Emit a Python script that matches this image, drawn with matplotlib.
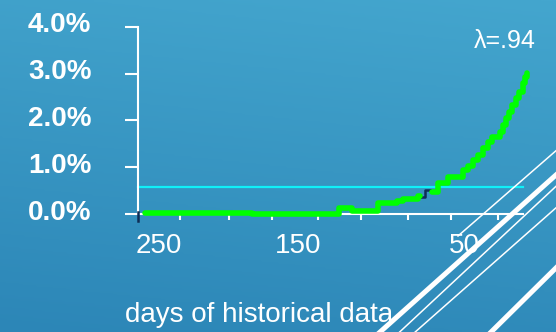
import numpy as np
import matplotlib
matplotlib.use("Agg")
import matplotlib.pyplot as plt
import matplotlib.transforms as mtransforms
from matplotlib.colors import LinearSegmentedColormap
from matplotlib.lines import Line2D

plt.rcParams['font.family'] = ['Liberation Sans', 'DejaVu Sans']

# Exceedance estimate (%) against days of historical data, lambda = .94
green_days = [265, 191, 131, 122, 104, 91, 86.7, 76.3, 74.8, 66.7, 62.5, 55.6,
              45.2, 41.7, 38.3, 34.9, 31.4, 28.0, 25.2, 19.7, 17.6, 15.5, 13.4,
              11.4, 8.5, 6.5, 4.0, 2.5, 1.0]
green_vals = [0.03, 0.00, 0.12, 0.07, 0.23, 0.27, 0.31, 0.38, np.nan, 0.48, 0.66,
              0.80, 0.94, 1.02, 1.15, 1.26, 1.42, 1.54, 1.64, 1.76, 1.90, 2.04,
              2.18, 2.33, 2.47, 2.61, 2.80, 2.92, 3.02]

# Reference series, visible where the green one breaks
navy_days = [77.0, 71.5, 68.0]
navy_vals = [0.36, 0.51, 0.51]

threshold = 0.58

y_ticks = [0, 1, 2, 3, 4]
y_tick_labels = ["0.0%", "1.0%", "2.0%", "3.0%", "4.0%"]
x_labels = ["250", "150", "50"]
x_label_pos = [255.8, 159.3, 44.5]
x_tick_marks = [240.8, 206.9, 177.2, 145.4, 115.7, 83.2, 53.5, 21.0]
x_start, x_end = 269.84, 3.77
lambda_text = "λ=.94"
x_title = "days of historical data"

GREEN = "#00ff00"
NAVY = "#0e2d55"
CYAN = "#10f0f8"

W, H = 556, 332
fig = plt.figure(figsize=(W / 100, H / 100), dpi=100)

# slide background gradient
bg = fig.add_axes([0, 0, 1, 1], zorder=-10)
yy, xx = np.mgrid[0:1:200j, 0:1:200j]
grad = 0.85 * yy + 0.15 * (1 - xx)
cmap = LinearSegmentedColormap.from_list("slide", ["#44a6ce", "#2c86b7"])
bg.imshow(grad, cmap=cmap, aspect="auto", extent=[0, 1, 0, 1], origin="upper")
bg.set_axis_off()

ax = fig.add_axes([138 / W, (H - 214) / H, 392 / W, 187.3 / H])
ax.set_facecolor("none")
ax.set_xlim(x_start, -1.07)
ax.set_ylim(0, 4)

for side in ("top", "right"):
    ax.spines[side].set_visible(False)
for side in ("left", "bottom"):
    ax.spines[side].set_color("white")
    ax.spines[side].set_linewidth(1.5)
ax.spines["bottom"].set_bounds(x_end, x_start)

ax.plot([x_start, x_end], [threshold, threshold], color=CYAN, lw=1.6,
        zorder=2, clip_on=False)
ax.plot(navy_days, navy_vals, drawstyle="steps-post", color=NAVY, lw=1.8,
        zorder=3, clip_on=False)
ax.plot(green_days, green_vals, drawstyle="steps-post", color=GREEN, lw=4,
        solid_capstyle="round", solid_joinstyle="round", zorder=4,
        clip_on=False)

# origin mark
ax.plot([x_start, x_start], [0.04, -0.15], color=NAVY, lw=1.8, clip_on=False,
        zorder=5)

ax.set_yticks(y_ticks, y_tick_labels)
ax.tick_params(axis="y", direction="out", length=9.5, width=1.5,
               color="white", labelcolor="white", labelsize=20, pad=24)
offset = mtransforms.ScaledTranslation(0, 4.5 / 100, fig.dpi_scale_trans)
for lab in ax.get_yticklabels():
    lab.set_fontweight("bold")
    lab.set_transform(lab.get_transform() + offset)
ax.yaxis.get_major_ticks()[0].tick1line.set_color(NAVY)

ax.set_xticks(x_label_pos, x_labels)
ax.set_xticks(x_tick_marks, minor=True)
ax.tick_params(axis="x", which="major", length=0, pad=14, labelsize=20,
               labelcolor="white")
ax.tick_params(axis="x", which="minor", direction="out", length=4.5,
               width=1.5, color="white")

fig.text(125 / W, 1 - 321.7 / H, x_title, fontsize=20, color="white",
         ha="left", va="baseline")
fig.text(505 / W, 1 - 48 / H, lambda_text, fontsize=18, color="white",
         ha="center", va="baseline")

# decorative slide strokes, lower right
strokes = [
    ((556, 150.7), (458, 236), 1.1),
    ((566, 166), (370, 341), 3.6),
    ((566, 177), (390, 341), 1.1),
    ((566, 199), (405, 341), 1.1),
    ((566, 258), (482, 341), 3.6),
]
for (x1, y1), (x2, y2), lw in strokes:
    fig.add_artist(Line2D([x1 / W, x2 / W], [1 - y1 / H, 1 - y2 / H],
                          transform=fig.transFigure, color="white", lw=lw,
                          zorder=20))

fig.savefig("out.png", dpi=100)
